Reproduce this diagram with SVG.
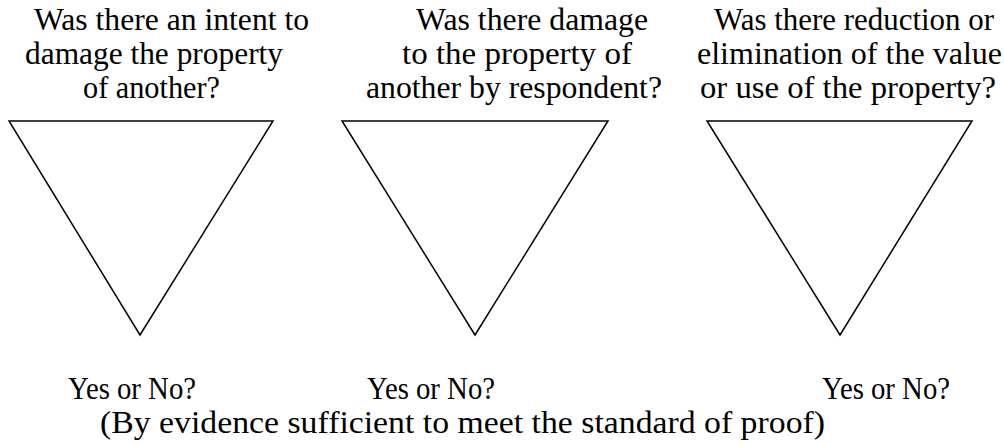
<svg xmlns="http://www.w3.org/2000/svg" width="1004" height="445" viewBox="0 0 1004 445">
<style>
.t{fill:#000;font-size:32px;}
.y{fill:#000;font-size:32px;}
.f{fill:#000;font-size:31px;}
.tri{fill:#fff;stroke:#000;stroke-width:1.5;}
</style>
<rect width="1004" height="445" fill="#fff"/>
<g id="node1">
<text class="t" font-family="Liberation Serif" x="34" y="30" textLength="275" lengthAdjust="spacingAndGlyphs">Was there an intent to</text>
<text class="t" font-family="Liberation Serif" x="25" y="64" textLength="258" lengthAdjust="spacingAndGlyphs">damage the property</text>
<text class="t" font-family="Liberation Serif" x="83" y="98" textLength="137" lengthAdjust="spacingAndGlyphs">of another?</text>
<polygon class="tri" points="9,121 273,121 140,335"/>
<text class="y" font-family="Liberation Serif" x="68" y="399" textLength="128" lengthAdjust="spacingAndGlyphs">Yes or No?</text>
</g>
<g id="node2">
<text class="t" font-family="Liberation Serif" x="416" y="30" textLength="232" lengthAdjust="spacingAndGlyphs">Was there damage</text>
<text class="t" font-family="Liberation Serif" x="402" y="64" textLength="230" lengthAdjust="spacingAndGlyphs">to the property of</text>
<text class="t" font-family="Liberation Serif" x="366" y="98" textLength="296" lengthAdjust="spacingAndGlyphs">another by respondent?</text>
<polygon class="tri" points="342,121 608,121 475,335"/>
<text class="y" font-family="Liberation Serif" x="367" y="399" textLength="128" lengthAdjust="spacingAndGlyphs">Yes or No?</text>
</g>
<g id="node3">
<text class="t" font-family="Liberation Serif" x="714" y="30" textLength="280" lengthAdjust="spacingAndGlyphs">Was there reduction or</text>
<text class="t" font-family="Liberation Serif" x="697" y="64" textLength="305" lengthAdjust="spacingAndGlyphs">elimination of the value</text>
<text class="t" font-family="Liberation Serif" x="700" y="98" textLength="296" lengthAdjust="spacingAndGlyphs">or use of the property?</text>
<polygon class="tri" points="707,121 972,121 840,335"/>
<text class="y" font-family="Liberation Serif" x="822" y="399" textLength="128" lengthAdjust="spacingAndGlyphs">Yes or No?</text>
</g>
<g id="footer">
<text class="f" font-family="Liberation Serif" x="100" y="433" textLength="725" lengthAdjust="spacingAndGlyphs">(By evidence sufficient to meet the standard of proof)</text>
</g>
<g id="connectors"></g>
</svg>
